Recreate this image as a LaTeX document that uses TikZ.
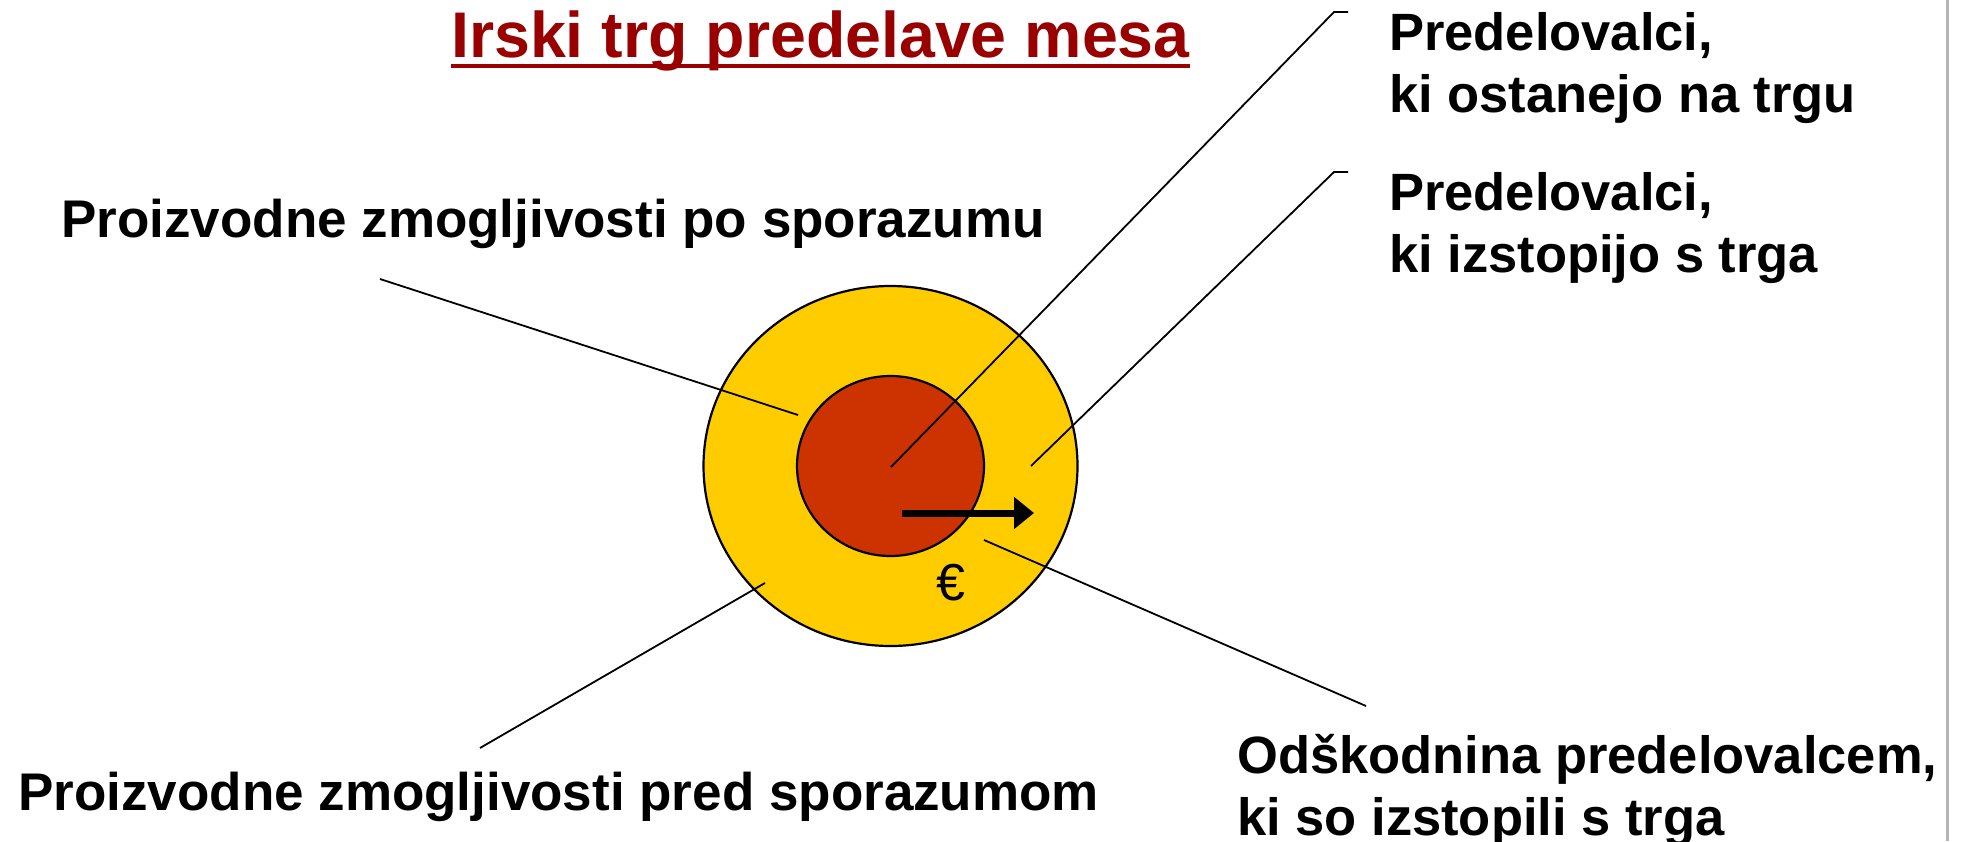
\documentclass[tikz,border=0pt]{standalone}
\usepackage{fontspec}
\setmainfont{Liberation Sans}
\usetikzlibrary{arrows.meta,shapes.geometric}
\definecolor{titlered}{HTML}{990000}
\definecolor{ringyellow}{HTML}{FFCC00}
\definecolor{corered}{HTML}{CC3300}
\definecolor{edgegray}{HTML}{B4B4B4}
\begin{document}
\begin{tikzpicture}[x=1pt,y=-1pt,
  lbl/.style={anchor=base west, inner sep=0pt, font=\fontsize{52.5}{62}\selectfont\bfseries},
  lblbig/.style={lbl, font=\fontsize{53}{62}\selectfont\bfseries},
  ttl/.style={anchor=base west, inner sep=0pt, font=\fontsize{64.5}{76}\selectfont\bfseries, text=titlered},
  leader/.style={line width=1.8pt, line join=miter},
  ring/.style={ellipse, draw=black, line width=2.2pt, inner sep=0pt, outer sep=0pt},
  flow/.style={line width=7pt, -{Triangle[length=20pt,width=31pt]}},
  euro/.style={inner sep=0pt, font=\fontsize{52}{60}\selectfont}
]
\useasboundingbox (0,0) rectangle (1961,841);
\fill[white] (0,0) rectangle (1961,841);

% right edge line
\coordinate (edgeTop) at (1947,0);
\coordinate (edgeBot) at (1947,841);
\draw[edgegray, line width=3pt] (edgeTop) -- (edgeBot);

% title
\node[ttl] (title) at (451,57) {Irski trg predelave mesa};
\draw[titlered, line width=3.5pt] ([yshift=-9pt]title.base west) -- ([yshift=-9pt]title.base east);

% circles
\node[ring, fill=ringyellow, minimum width=374pt, minimum height=360pt] (outer) at (890.5,466) {};
\node[ring, fill=corered, minimum width=187pt, minimum height=180pt] (inner) at (890.5,466) {};

% labels
\node[lblbig] (po) at (61,237) {Proizvodne zmogljivosti po sporazumu};
\node[lblbig] (pred) at (18,810) {Proizvodne zmogljivosti pred sporazumom};
\node[lbl] (ostA) at (1389,50) {Predelovalci,};
\node[lbl] (ostB) at (1389,112) {ki ostanejo na trgu};
\node[lbl] (izsA) at (1389,210) {Predelovalci,};
\node[lbl] (izsB) at (1389,272) {ki izstopijo s trga};
\node[lbl] (odsA) at (1237,773) {Odškodnina predelovalcem,};
\node[lbl] (odsB) at (1237,835) {ki so izstopili s trga};

% leader coordinates
\coordinate (poOut) at (380,279);
\coordinate (poIn) at (798,415);
\coordinate (predOut) at (480,748);
\coordinate (predIn) at (765,583);
\coordinate (ostIn) at (891,467);
\coordinate (ostBend) at (1334,12);
\coordinate (ostEnd) at (1348,12);
\coordinate (izsIn) at (1031,466);
\coordinate (izsBend) at (1334,172);
\coordinate (izsEnd) at (1348,172);
\coordinate (odsIn) at (984,540);
\coordinate (odsOut) at (1366,706);

\draw[leader] (poOut) -- (poIn);
\draw[leader] (predOut) -- (predIn);
\draw[leader] (ostIn) -- (ostBend) -- (ostEnd);
\draw[leader] (izsIn) -- (izsBend) -- (izsEnd);
\draw[leader] (odsIn) -- (odsOut);

% arrow and euro
\coordinate (flowStart) at (902,513);
\coordinate (flowEnd) at (1034,513);
\draw[flow] (flowStart) -- (flowEnd);
\node[euro] (eur) at (951,583) {€};
\end{tikzpicture}
\end{document}
